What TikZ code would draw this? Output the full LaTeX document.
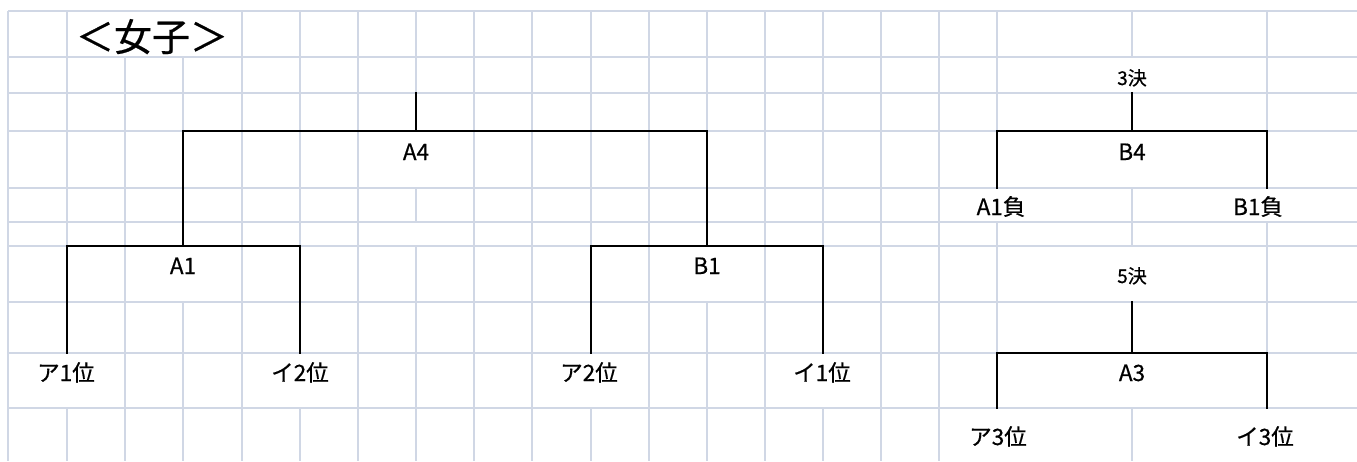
\documentclass[tikz,border=0pt]{standalone}
\usepackage{fontspec}
\setmainfont{Noto Sans CJK JP}[FakeBold=0.6]
\definecolor{gridc}{HTML}{D0D7E5}
\tikzset{
  gridline/.style={draw=gridc, line width=1.6pt},
  bracket/.style={draw=black, line width=2.2pt, line cap=rect},
  lbl/.style={anchor=base, inner sep=0pt, font=\fontsize{22.5}{25}\selectfont},
  small/.style={anchor=base, inner sep=0pt, font=\fontsize{19}{22}\selectfont},
  ttl/.style={anchor=base, inner sep=0pt, font=\fontsize{38}{42}\selectfont}
}
\begin{document}
\begin{tikzpicture}[x=1pt, y=-1pt]
\useasboundingbox (0,0) rectangle (1357,461);
% horizontal grid lines
\foreach \y in {11,57,93,131,188,222,246,302,353,408}
  \draw[gridline] (8,\y) -- (1357,\y);
% vertical grid lines (with gaps of merged cells)
\foreach \x/\ya/\yb in {8/11/461, 67/11/353, 67/408/461, 125/57/461,
  183/57/246, 183/302/461, 242/11/461, 300/11/353, 300/408/461,
  358/11/461, 416/11/131, 416/188/222, 416/246/461, 474/11/461,
  532/11/461, 591/11/353, 591/408/461, 649/11/461, 707/11/246,
  707/302/461, 765/11/461, 823/11/353, 823/408/461, 881/11/461,
  939/11/461, 997/11/188, 997/222/408, 1132/11/57, 1132/93/131,
  1132/188/246, 1132/302/353, 1132/408/461, 1267/11/188, 1267/222/408}
  \draw[gridline] (\x,\ya) -- (\x,\yb);

% labels
\node[ttl] (title) at (152,51) {＜女子＞};
\node[lbl] (A4) at (416,160) {A4};
\node[lbl] (A1) at (183,274) {A1};
\node[lbl] (B1) at (707,274) {B1};
\node[lbl] (a1) at (66,381) {ア1位};
\node[lbl] (i2) at (300,381) {イ2位};
\node[lbl] (a2) at (589,381) {ア2位};
\node[lbl] (i1) at (822,381) {イ1位};
\node[small] (k3) at (1132,85) {3決};
\node[lbl] (B4) at (1132,160) {B4};
\node[lbl] (A1m) at (1001,215) {A1負};
\node[lbl] (B1m) at (1258,215) {B1負};
\node[small] (k5) at (1132,283) {5決};
\node[lbl] (A3) at (1132,381) {A3};
\node[lbl] (a3) at (998,445) {ア3位};
\node[lbl] (i3) at (1265,445) {イ3位};

% bracket coordinates
\coordinate (A4t) at (416,93);
\coordinate (A4m) at (416,131);
\coordinate (A4l) at (183,131);
\coordinate (A4r) at (707,131);
\coordinate (A1t) at (183,246);
\coordinate (A1l) at (67,246);
\coordinate (A1r) at (300,246);
\coordinate (a1t) at (67,353);
\coordinate (i2t) at (300,353);
\coordinate (B1t) at (707,246);
\coordinate (B1l) at (591,246);
\coordinate (B1r) at (823,246);
\coordinate (a2t) at (591,353);
\coordinate (i1t) at (823,353);
\coordinate (B4t) at (1132,93);
\coordinate (B4m) at (1132,131);
\coordinate (B4l) at (997,131);
\coordinate (B4r) at (1267,131);
\coordinate (A1mt) at (997,188);
\coordinate (B1mt) at (1267,188);
\coordinate (A3t) at (1132,302);
\coordinate (A3m) at (1132,353);
\coordinate (A3l) at (997,353);
\coordinate (A3r) at (1267,353);
\coordinate (a3t) at (997,408);
\coordinate (i3t) at (1267,408);

% brackets
\draw[bracket] (A4t) -- (A4m);
\draw[bracket] (A1t) -- (A4l) -- (A4r) -- (B1t);
\draw[bracket] (a1t) -- (A1l) -- (A1r) -- (i2t);
\draw[bracket] (a2t) -- (B1l) -- (B1r) -- (i1t);
\draw[bracket] (B4t) -- (B4m);
\draw[bracket] (A1mt) -- (B4l) -- (B4r) -- (B1mt);
\draw[bracket] (A3t) -- (A3m);
\draw[bracket] (a3t) -- (A3l) -- (A3r) -- (i3t);
\end{tikzpicture}
\end{document}
